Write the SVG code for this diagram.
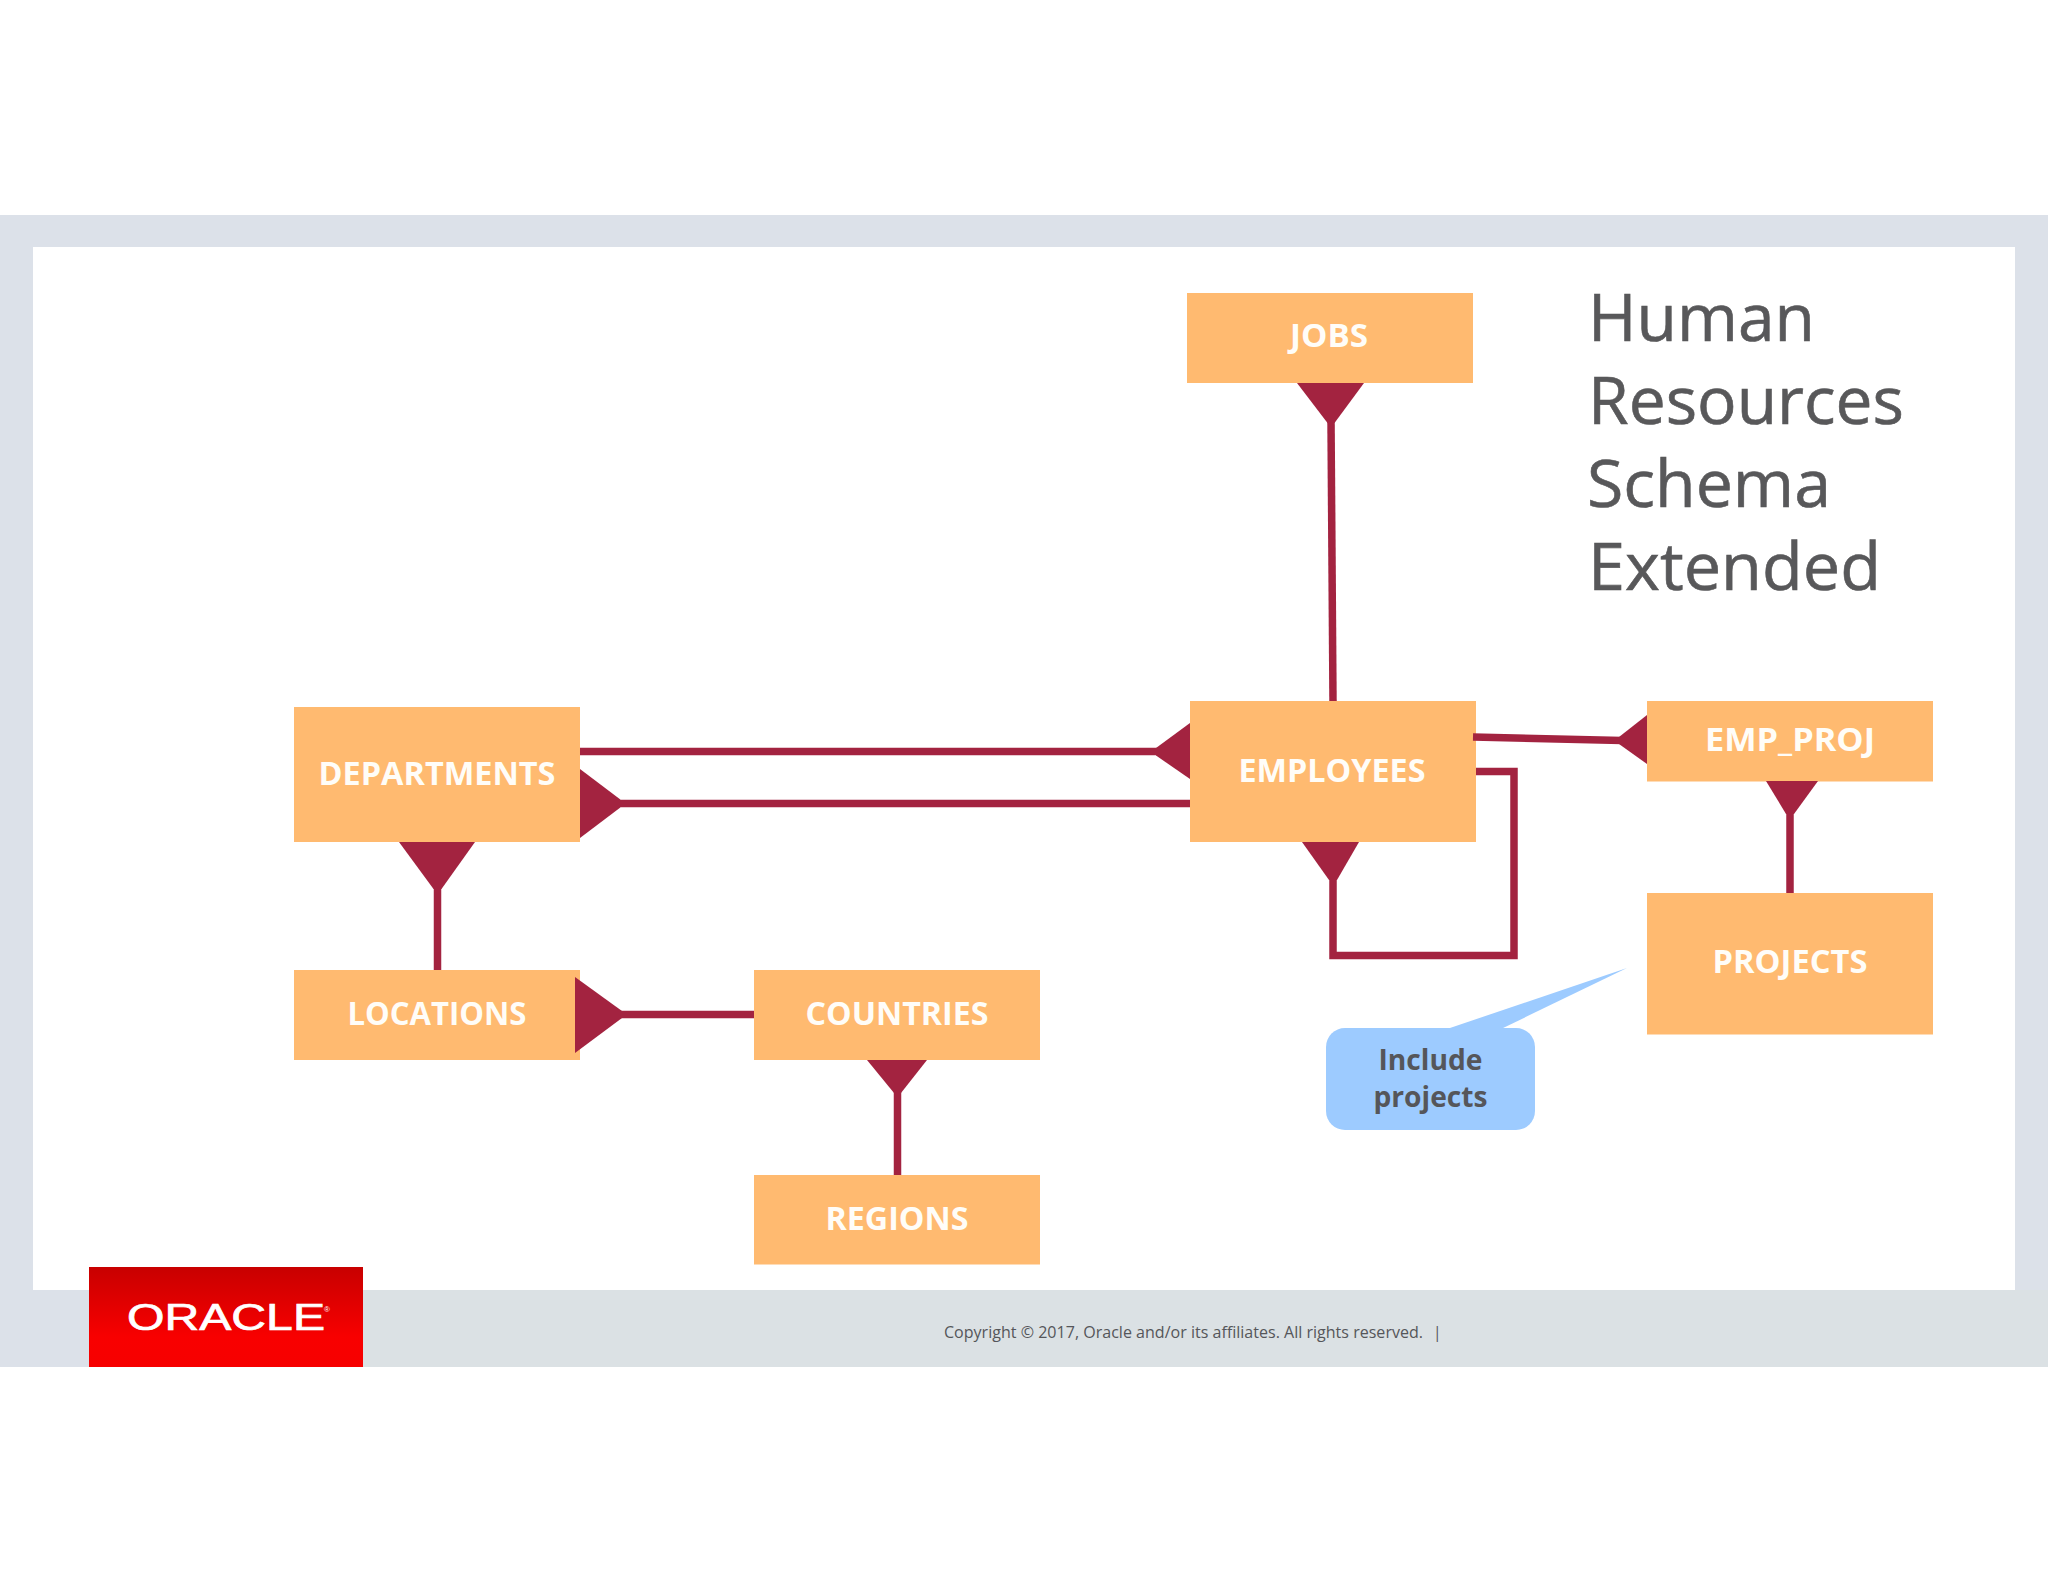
<svg xmlns="http://www.w3.org/2000/svg" width="2048" height="1582" viewBox="0 0 2048 1582">
<defs>
<linearGradient id="red" x1="0" y1="0" x2="0" y2="1"><stop offset="0" stop-color="#c80000"/><stop offset="0.7" stop-color="#f80000"/><stop offset="1" stop-color="#f60000"/></linearGradient>
</defs>
<style>
.ent{fill:#ffba70}
.lbl{font-family:"Open Sans","Noto Sans",sans-serif;font-weight:700;font-size:33px;fill:#fffdf8;text-anchor:middle}
.title{font-family:"Open Sans","Noto Sans",sans-serif;font-size:66px;fill:#58585a;stroke:#58585a;stroke-width:.6}
.call{font-family:"Open Sans","Noto Sans",sans-serif;font-weight:700;font-size:28px;fill:#55565a;text-anchor:middle}
.foot{font-family:"Open Sans","Noto Sans",sans-serif;font-size:15.5px;fill:#55565a}
.ln{fill:none;stroke:#a32340;stroke-width:7.500}
.cf{fill:#a32340}
</style>
<rect width="2048" height="1582" fill="#ffffff"/>
<g id="frame">
<rect x="0" y="215" width="2048" height="1152" fill="#dce1e9"/>
<rect x="363" y="1290" width="1685" height="77" fill="#dbe1e4"/>
<rect x="33" y="247" width="1982" height="1043" fill="#ffffff"/>
</g>
<g id="jobs"><rect class="ent" x="1187" y="293" width="286" height="90"/><text class="lbl" x="1329" y="347" textLength="78" lengthAdjust="spacingAndGlyphs">JOBS</text></g>
<g id="employees"><rect class="ent" x="1190" y="701" width="286" height="141"/><text class="lbl" x="1332" y="782" textLength="187" lengthAdjust="spacingAndGlyphs">EMPLOYEES</text></g>
<g id="emp_proj"><rect class="ent" x="1647" y="701" width="286" height="80.500"/><text class="lbl" x="1790" y="751" textLength="170" lengthAdjust="spacingAndGlyphs">EMP_PROJ</text></g>
<g id="projects"><rect class="ent" x="1647" y="893" width="286" height="141.500"/><text class="lbl" x="1790" y="973" textLength="155" lengthAdjust="spacingAndGlyphs">PROJECTS</text></g>
<g id="departments"><rect class="ent" x="294" y="707" width="286" height="135"/><text class="lbl" x="437" y="785" textLength="237" lengthAdjust="spacingAndGlyphs">DEPARTMENTS</text></g>
<g id="locations"><rect class="ent" x="294" y="970" width="286" height="90"/><text class="lbl" x="437" y="1025" textLength="179" lengthAdjust="spacingAndGlyphs">LOCATIONS</text></g>
<g id="countries"><rect class="ent" x="754" y="970" width="286" height="90"/><text class="lbl" x="897" y="1025" textLength="183" lengthAdjust="spacingAndGlyphs">COUNTRIES</text></g>
<g id="regions"><rect class="ent" x="754" y="1175" width="286" height="89.500"/><text class="lbl" x="897" y="1230" textLength="143" lengthAdjust="spacingAndGlyphs">REGIONS</text></g>
<g id="connectors">
<path class="ln" d="M1331 420L1333 701"/>
<path class="ln" d="M580 751.500H1190"/>
<path class="ln" d="M621 803.500H1190"/>
<path class="ln" d="M1473 737L1622 740.500"/>
<path class="ln" d="M1476 771.500H1514V955.500H1333V875"/>
<path class="ln" d="M1790 810V893"/>
<path class="ln" d="M437.500 885V970"/>
<path class="ln" d="M618 1014.500H754"/>
<path class="ln" d="M897.500 1090V1175"/>
<path class="cf" d="M1297 383H1364L1334.500 423H1327.500Z"/>
<path class="cf" d="M1190 723V779L1156 755.500V748Z"/>
<path class="cf" d="M580 769V838L621 807V800Z"/>
<path class="cf" d="M1647 715V764L1619 744V737Z"/>
<path class="cf" d="M1302 842H1359L1337 880H1329Z"/>
<path class="cf" d="M1766 781H1818L1794 814H1786Z"/>
<path class="cf" d="M399 842H475L441.500 889H433.500Z"/>
<path class="cf" d="M575 977V1053L622 1018V1011Z"/>
<path class="cf" d="M867 1060H927L901 1093H894Z"/>
</g>
<g id="title">
<text class="title" x="1588" y="341" textLength="227" lengthAdjust="spacingAndGlyphs">Human</text>
<text class="title" x="1588" y="424" textLength="316" lengthAdjust="spacingAndGlyphs">Resources</text>
<text class="title" x="1587" y="507" textLength="244" lengthAdjust="spacingAndGlyphs">Schema</text>
<text class="title" x="1588" y="590" textLength="293" lengthAdjust="spacingAndGlyphs">Extended</text>
</g>
<g id="callout">
<path fill="#9dcbff" d="M1447 1029L1627 968L1501 1029Z"/>
<rect x="1326" y="1028" width="209" height="102" rx="19" fill="#9dcbff"/>
<text class="call" x="1430.500" y="1070" textLength="104" lengthAdjust="spacingAndGlyphs">Include</text>
<text class="call" x="1430.500" y="1107" textLength="114" lengthAdjust="spacingAndGlyphs">projects</text>
</g>
<g id="logo">
<rect x="89" y="1267" width="274" height="100" fill="url(#red)"/>
<text x="127" y="1330" font-family="'Liberation Sans',sans-serif" font-size="37" fill="#fff" stroke="#fff" stroke-width=".7" textLength="198" lengthAdjust="spacingAndGlyphs">ORACLE</text>
<text x="324" y="1312" font-family="'Liberation Sans',sans-serif" font-size="8" fill="#fff">®</text>
</g>
<g id="footer">
<text class="foot" x="944" y="1338" textLength="479" lengthAdjust="spacingAndGlyphs">Copyright © 2017, Oracle and/or its affiliates. All rights reserved.</text>
<text class="foot" x="1433" y="1338">|</text>
</g>
</svg>
